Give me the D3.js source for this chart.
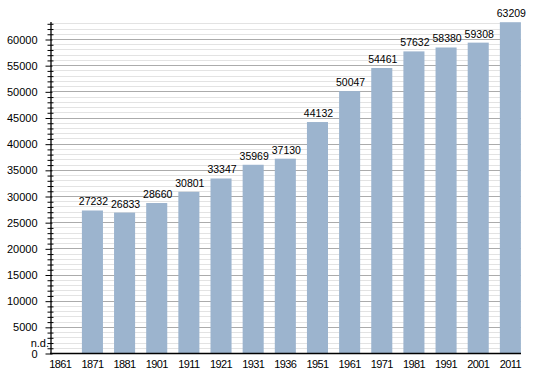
<!DOCTYPE html>
<html lang="en">
<head>
    <meta charset="UTF-8">
    <title>Population</title>
    <style>
        html, body {
            margin: 0;
            padding: 0;
            background-color: #ffffff;
        }
        svg text {
            font-family: 'Liberation Sans', Arial, sans-serif;
            font-size: 11px;
            fill: #000;
        }
    </style>
</head>
<body>
    <div id="graph"></div>
    <script src="https://d3js.org/d3.v7.min.js"></script>
    <script>
        // DATA
        const years = ["1861", "1871", "1881", "1901", "1911", "1921", "1931", "1936",
                       "1951", "1961", "1971", "1981", "1991", "2001", "2011"];
        const population = [null, 27232, 26833, 28660, 30801, 33347, 35969, 37130,
                            44132, 50047, 54461, 57632, 58380, 59308, 63209];
        const majorTicks = [0, 5000, 10000, 15000, 20000, 25000, 30000,
                            35000, 40000, 45000, 50000, 55000, 60000];
        const missingLabel = "n.d.";

        const width = 550, height = 373;
        const plot = {left: 50, right: 521, top: 21, bottom: 353};

        const svg = d3.select("#graph")
            .append("svg")
            .attr("width", width)
            .attr("height", height);

        // SCALES
        const x = d3.scaleBand()
            .domain(years)
            .range([44.2, 526.45])
            .paddingInner(0.345)
            .paddingOuter(0.1725);

        const y = d3.scaleLinear()
            .domain([0, 63440])
            .range([plot.bottom, plot.top]);

        const minorTicks = d3.range(0, 63001, 1000).filter(v => v % 5000 !== 0);

        // GRIDLINES
        svg.append("g")
            .selectAll("line")
            .data(minorTicks).enter()
            .append("line")
            .attr("x1", plot.left).attr("x2", plot.right)
            .attr("y1", d => Math.round(y(d)) + 0.5)
            .attr("y2", d => Math.round(y(d)) + 0.5)
            .attr("stroke", "#e3e3e3");
        svg.append("g")
            .selectAll("line")
            .data(majorTicks.filter(d => d > 0)).enter()
            .append("line")
            .attr("x1", plot.left).attr("x2", plot.right)
            .attr("y1", d => Math.round(y(d)) + 0.5)
            .attr("y2", d => Math.round(y(d)) + 0.5)
            .attr("stroke", "#ababab");

        // BARS
        const barData = years.map((yr, i) => ({ year: yr, value: population[i] }))
            .filter(d => d.value !== null);

        svg.append("g")
            .selectAll("rect")
            .data(barData).enter()
            .append("rect")
            .attr("x", d => x(d.year))
            .attr("y", d => y(d.value))
            .attr("width", x.bandwidth())
            .attr("height", d => plot.bottom - y(d.value))
            .style("fill", "#9cb4ce");

        svg.append("g")
            .selectAll("text")
            .data(barData).enter()
            .append("text")
            .attr("x", d => x(d.year) + x.bandwidth() / 2 + 1)
            .attr("y", d => y(d.value) - 5)
            .attr("text-anchor", "middle")
            .style("font-size", "10.5px")
            .text(d => d.value);

        // missing value label
        svg.append("text")
            .attr("x", plot.left - 1)
            .attr("y", y(0) - 6)
            .attr("text-anchor", "end")
            .text(missingLabel);

        // Y AXIS
        const yMinor = d3.axisLeft(y)
            .tickValues(minorTicks)
            .tickSize(3)
            .tickFormat("")
            .tickSizeOuter(0);
        const yMinorG = svg.append("g")
            .attr("transform", `translate(${plot.left + 0.5}, 0.5)`)
            .call(yMinor);
        yMinorG.select(".domain").remove();
        yMinorG.selectAll(".tick line").attr("x2", -3).attr("x1", 3).attr("stroke", "#000");

        const yAxis = d3.axisLeft(y)
            .tickValues(majorTicks)
            .tickSize(5)
            .tickPadding(8)
            .tickFormat(d3.format("d"))
            .tickSizeOuter(0);
        const yAxisG = svg.append("g")
            .attr("transform", `translate(${plot.left + 0.5}, 0.5)`)
            .call(yAxis);
        yAxisG.select(".domain").attr("stroke", "#000").attr("stroke-width", 1.3);
        yAxisG.selectAll(".tick line").attr("x1", 2).attr("stroke", "#000");
        yAxisG.selectAll(".tick text")
            .style("font-family", "'Liberation Sans', Arial, sans-serif")
            .style("font-size", "11px")
            .attr("fill", "#000");

        // X AXIS
        const xAxis = d3.axisBottom(x)
            .tickSize(0)
            .tickPadding(7)
            .tickSizeOuter(0);
        const xAxisG = svg.append("g")
            .attr("transform", `translate(0, ${plot.bottom})`)
            .call(xAxis);
        xAxisG.select(".domain").remove();
        xAxisG.selectAll(".tick text")
            .style("font-family", "'Liberation Sans', Arial, sans-serif")
            .style("font-size", "11px")
            .style("letter-spacing", "-0.6px")
            .attr("fill", "#000");
        xAxisG.append("line")
            .attr("x1", plot.left).attr("x2", plot.right)
            .attr("y1", 0.5).attr("y2", 0.5)
            .attr("stroke", "#000")
            .attr("stroke-width", 1.3);
    </script>
</body>
</html>
